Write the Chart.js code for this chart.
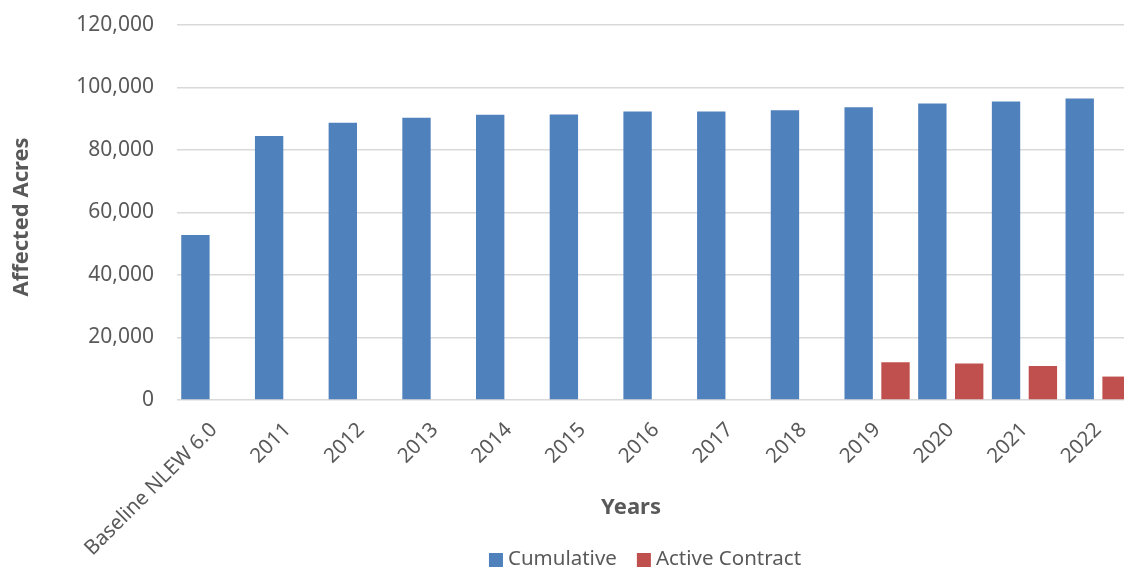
<!DOCTYPE html>
<html>
<head>
<meta charset="utf-8">
<script src="https://cdn.jsdelivr.net/npm/chart.js@4.4.1/dist/chart.umd.min.js"></script>
<style>
    html, body { margin: 0; padding: 0; background: #fff; overflow: hidden; }
    #wrap { width: 1140px; height: 570px; }
</style>
</head>
<body>
<div id="wrap"><canvas id="chart" width="1140" height="570"></canvas></div>
<script>
const categories = ["Baseline NLEW 6.0", "2011", "2012", "2013", "2014", "2015", "2016",
    "2017", "2018", "2019", "2020", "2021", "2022"];
const cumulative = [52800, 84500, 88700, 90300, 91300, 91400, 92300, 92300, 92700, 93700, 94900, 95500, 96500];
const activeContract = [null, null, null, null, null, null, null, null, null, 12100, 11700, 10900, 7500];
const yTicks = [0, 20000, 40000, 60000, 80000, 100000, 120000];

const textColor = "#595959";
const fontFamily = "'Noto Sans', 'Liberation Sans', sans-serif";

// titles and legend are drawn here so they can sit off the plot centre like the original
const extraText = {
    id: "extraText",
    afterDraw(chart) {
        const ctx = chart.ctx;
        ctx.save();
        ctx.fillStyle = textColor;
        ctx.textBaseline = "middle";

        ctx.font = `bold 22px ${fontFamily}`;
        ctx.textAlign = "center";
        ctx.fillText("Years", 631, 508);

        ctx.save();
        ctx.translate(22, 217);
        ctx.rotate(-Math.PI / 2);
        ctx.fillText("Affected Acres", 0, 0);
        ctx.restore();

        ctx.font = `20.5px ${fontFamily}`;
        ctx.textAlign = "left";
        const items = chart.data.datasets.map((ds) => ({ label: ds.label, color: ds.backgroundColor }));
        const box = 14, gapBox = 5, gapItem = 20;
        const widths = items.map((it) => box + gapBox + ctx.measureText(it.label).width);
        const total = widths.reduce((a, b) => a + b, 0) + gapItem * (items.length - 1);
        let x = 645 - total / 2;
        items.forEach((it, i) => {
            ctx.fillStyle = it.color;
            ctx.fillRect(x, 553, box, box);
            ctx.fillStyle = textColor;
            ctx.fillText(it.label, x + box + gapBox, 559);
            x += widths[i] + gapItem;
        });
        ctx.restore();
    },
};

new Chart(document.getElementById("chart"), {
    type: "bar",
    data: {
        labels: categories,
        datasets: [
            { label: "Cumulative", data: cumulative, backgroundColor: "#4F81BD" },
            { label: "Active Contract", data: activeContract, backgroundColor: "#C0504D" },
        ],
    },
    options: {
        responsive: false,
        animation: false,
        layout: { padding: { top: 25, right: 5 } },
        datasets: { bar: { categoryPercentage: 1.0, barPercentage: 0.77 } },
        plugins: {
            legend: { display: false },
            tooltip: { enabled: false },
        },
        scales: {
            x: {
                grid: { display: false },
                border: { display: false },
                ticks: {
                    color: textColor,
                    font: { family: fontFamily, size: 20.5 },
                    minRotation: 45,
                    maxRotation: 45,
                    padding: 10,
                },
                afterFit: (scale) => {
                    scale.height = 170;
                    scale.paddingTop = 0;
                    scale.paddingBottom = 0;
                },
            },
            y: {
                min: 0,
                max: 120000,
                afterBuildTicks: (scale) => { scale.ticks = yTicks.map((v) => ({ value: v })); },
                grid: { color: "#D9D9D9", lineWidth: 1.5, drawTicks: false },
                border: { display: false },
                ticks: {
                    color: textColor,
                    font: { family: fontFamily, size: 21 },
                    padding: 23,
                    callback: (v) => v.toLocaleString("en-US"),
                },
                afterFit: (scale) => {
                    scale.width = 177;
                    scale.paddingTop = 0;
                    scale.paddingBottom = 0;
                },
            },
        },
    },
    plugins: [extraText],
});
</script>
</body>
</html>
